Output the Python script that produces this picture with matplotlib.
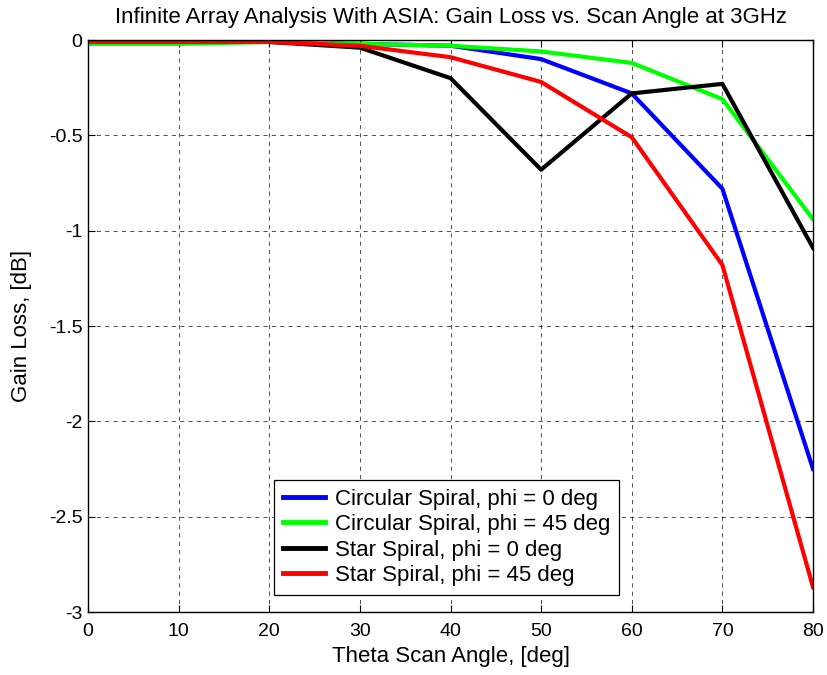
import numpy as np
import matplotlib
matplotlib.use('Agg')
import matplotlib.pyplot as plt

plt.rcParams['font.family'] = ['Liberation Sans', 'DejaVu Sans']

theta = [0, 10, 20, 30, 40, 50, 60, 70, 80]
circ_phi0 = [-0.01, -0.01, -0.01, -0.02, -0.03, -0.10, -0.28, -0.78, -2.25]
circ_phi45 = [-0.02, -0.02, -0.01, -0.02, -0.03, -0.06, -0.12, -0.31, -0.94]
star_phi0 = [-0.01, -0.01, -0.01, -0.04, -0.20, -0.68, -0.28, -0.23, -1.09]
star_phi45 = [-0.01, -0.01, -0.01, -0.03, -0.09, -0.22, -0.51, -1.18, -2.87]

labels = ['Circular Spiral, phi = 0 deg', 'Circular Spiral, phi = 45 deg',
          'Star Spiral, phi = 0 deg', 'Star Spiral, phi = 45 deg']
colors = ['#0000ff', '#00ff00', '#000000', '#ff0000']

fig = plt.figure(figsize=(8.27, 6.75), dpi=100)
ax = fig.add_axes([0.1064, 0.0933, 0.8767, 0.8474])

for ys, lab, c in zip([circ_phi0, circ_phi45, star_phi0, star_phi45], labels, colors):
    ax.plot(theta, ys, color=c, lw=3, label=lab)

ax.set_xlim(0, 80)
ax.set_ylim(-3, 0)
ax.set_xticks(np.arange(0, 81, 10))
ax.set_yticks([-3, -2.5, -2, -1.5, -1, -0.5, 0])
ax.set_yticklabels(['-3', '-2.5', '-2', '-1.5', '-1', '-0.5', '0'])
ax.tick_params(direction='in', labelsize=14, top=True, right=True, length=5, pad=4)
ax.tick_params(axis='x', pad=8)
ax.grid(True, color='k', linestyle=(0, (5, 5)), lw=0.6, alpha=0.8)
for s in ax.spines.values():
    s.set_linewidth(1.0)

ax.set_title('Infinite Array Analysis With ASIA: Gain Loss vs. Scan Angle at 3GHz',
             fontsize=16, pad=12)
ax.set_xlabel('Theta Scan Angle, [deg]', fontsize=16, labelpad=4)
ax.set_ylabel('Gain Loss, [dB]', fontsize=16, labelpad=12)

leg = ax.legend(loc='lower left', bbox_to_anchor=(0.2566, 0.0297), fontsize=16,
                fancybox=False, framealpha=1, edgecolor='k', handlelength=1.9,
                handletextpad=0.45, borderpad=0.4, labelspacing=0.2,
                borderaxespad=0)
leg.get_frame().set_linewidth(0.9)
for h in leg.get_lines():
    h.set_linewidth(3.5)

fig.savefig('out.png', dpi=100)
